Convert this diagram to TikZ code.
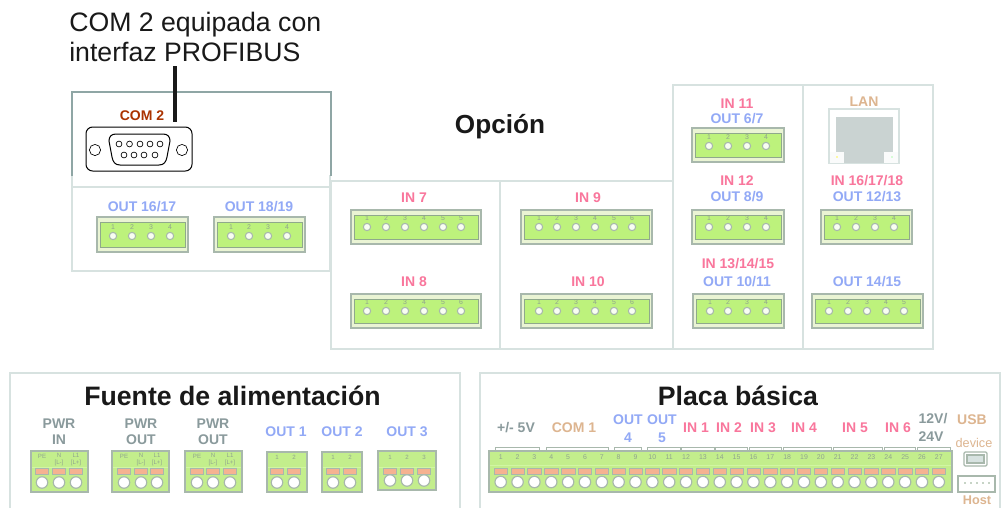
\documentclass[tikz,border=0pt]{standalone}
\usepackage{fontspec}
\setmainfont{Liberation Sans}
\definecolor{panel}{HTML}{D7E2E0}
\definecolor{panelD}{HTML}{8FA6A5}
\definecolor{inpink}{HTML}{F9769C}
\definecolor{outblue}{HTML}{92A9F6}
\definecolor{tanc}{HTML}{DDB590}
\definecolor{grayt}{HTML}{8A9A9C}
\definecolor{plugbg}{HTML}{EAF4D4}
\definecolor{plugedge}{HTML}{A8B8AC}
\definecolor{plugin}{HTML}{BDF27C}
\definecolor{plugdark}{HTML}{8FA98C}
\definecolor{termg}{HTML}{C3EE8C}
\definecolor{orangec}{HTML}{F5B291}
\definecolor{numc}{HTML}{8FA38F}
\tikzset{
  x=0.75pt,y=-0.75pt,
  panelline/.style={draw=panel,line width=1.6pt},
  lab/.style={inner sep=0pt,font=\fontsize{10.5}{12}\selectfont\bfseries},
  inlab/.style={lab,text=inpink},
  outlab/.style={lab,text=outblue},
  graylab/.style={lab,text=grayt},
  tanlab/.style={lab,text=tanc},
  head/.style={inner sep=0pt,text=black!90,font=\fontsize{20}{22}\selectfont\bfseries},
  callout/.style={inner sep=0pt,anchor=base west,text=black!90,font=\fontsize{20}{24}\selectfont},
  num/.style={inner sep=0pt,text=numc,font=\fontsize{5.2}{6}\selectfont},
  tiny/.style={inner sep=0pt,text=numc,font=\fontsize{4.6}{5}\selectfont,align=center},
  plugouter/.style={draw=plugedge,fill=plugbg,line width=0.9pt},
  pluginner/.style={draw=plugdark,fill=plugin,line width=0.75pt},
  hole/.style={circle,draw=plugedge,fill=white!90!plugin,line width=0.8pt,minimum size=5.5pt,inner sep=0pt},
  termbody/.style={draw=plugedge,fill=termg,line width=0.9pt},
  termline/.style={draw=plugin!70!white,line width=0.7pt},
  orangepad/.style={draw=plugedge,fill=orangec,line width=0.4pt,minimum width=10pt,minimum height=4.2pt,inner sep=0pt},
  termhole/.style={circle,draw=plugedge,fill=white,line width=0.9pt,minimum size=8.6pt,inner sep=0pt},
  bracket/.style={draw=plugedge,line width=0.7pt},
  db/.style={draw=black,line width=0.75pt},
  pin/.style={circle,draw=black,fill=white,line width=0.5pt,minimum size=4.4pt,inner sep=0pt},
  screw/.style={circle,draw=black,fill=white,line width=0.5pt,minimum size=8.4pt,inner sep=0pt}
}
% plug: x1,y1,x2,y2, hole y, list of x/label
\newcommand{\plugconn}[6]{%
  \draw[plugouter] (#1,#2) rectangle (#3,#4);
  \draw[pluginner] ({#1+3},{#2+5}) rectangle ({#3-3},{#4-5});
  \foreach \hx/\hl in {#6}{
    \node[hole] at (\hx,#5) {};
    \node[num] at (\hx,{#5-9}) {\hl};
  }%
}
% terminal block: x1,y1,x2,y2, list of x
\newcommand{\termconn}[5]{%
  \draw[termbody] (#1,#2) rectangle (#3,#4);
  \draw[termline] ({#1+1},467) -- ({#3-1},467);
  \foreach \hx in {#5}{
    \node[orangepad] at (\hx,471) {};
    \node[termhole] at (\hx,{#4-9.5}) {};
  }%
}
\begin{document}
\begin{tikzpicture}
\useasboundingbox (0,0) rectangle (1001,508);
\fill[white] (0,0) rectangle (1001,508);

% ---- panels
\draw[panelline] (72,175) -- (72,271) -- (330,271) -- (330,175);
\draw[panelline] (72,187) -- (330,187);
\draw[draw=panelD,line width=1.9pt] (72,176) -- (72,92) -- (331,92) -- (331,176);
\draw[panelline] (331,181) rectangle (673,349);
\draw[panelline] (500,181) -- (500,349);
\draw[panelline] (673,85) rectangle (933,349);
\draw[panelline] (803,85) -- (803,349);
\draw[panelline] (10,508) -- (10,373) -- (460,373) -- (460,508);
\draw[panelline] (480,508) -- (480,373) -- (1000,373) -- (1000,508);

% ---- headings
\node[callout] (t1) at (69,31) {COM 2 equipada con};
\node[callout] (t2) at (69,61) {interfaz PROFIBUS};
\node[head,font=\fontsize{19.6}{22}\selectfont\bfseries] (opc) at (500,126.5) {Opción};
\node[head] (fue) at (232.5,396) {Fuente de alimentación};
\node[head] (pla) at (738,396) {Placa básica};

% ---- COM 2
\node[lab,text=red!45!black!60!orange] (com2) at (142,116) {COM 2};
\draw[db,rounded corners=5pt,fill=white] (86,127) rectangle (192,171);
\draw[db] (109,141) .. controls (109,137) and (111,134) .. (116,134) -- (163,134) .. controls (168,134) and (170,137) .. (170,141) -- (167,157) .. controls (166,162) and (164,165) .. (159,165) -- (120,165) .. controls (115,165) and (113,162) .. (112,157) -- cycle;
\node[screw] (s1) at (95,150) {};
\node[screw] (s2) at (182,150) {};
\foreach \px in {119,129.5,140,150,160}{\node[pin] at (\px,144) {};}
\foreach \px in {124,134,144,155}{\node[pin] at (\px,155) {};}
\coordinate (lead) at (175,66);
\coordinate (leadend) at (175,122);
\draw[black!90,line width=2.4pt] (lead) -- (leadend);

% ---- top left
\node[outlab] (l1617) at (142,207) {OUT 16/17};
\node[outlab] (l1819) at (259,207) {OUT 18/19};
\plugconn{97}{217}{188}{252}{236}{113/1,132/2,151/3,170/4}
\plugconn{214}{217}{305}{252}{236}{231/1,249/2,268/3,287/4}

% ---- middle
\node[inlab] (in7) at (414,198) {IN 7};
\node[inlab] (in8) at (414,282) {IN 8};
\node[inlab] (in9) at (588,198) {IN 9};
\node[inlab] (in10) at (588,282) {IN 10};
\plugconn{351}{210}{481}{244}{227}{367/1,386/2,405/3,424/4,443/5,461/5}
\plugconn{351}{294}{481}{328}{311}{367/1,386/2,405/3,424/4,443/5,461/6}
\plugconn{521}{210}{652}{244}{227}{539/1,557/2,576/3,595/4,614/5,632/6}
\plugconn{521}{294}{652}{328}{311}{539/1,557/2,576/3,595/4,614/5,632/6}

% ---- right column A
\node[inlab] (in11) at (737,104) {IN 11};
\node[outlab] (o67) at (737,119) {OUT 6/7};
\plugconn{692}{128}{784}{162}{146}{709/1,728/2,747/3,766/4}
\node[inlab] (in12) at (737,181) {IN 12};
\node[outlab] (o89) at (737,197) {OUT 8/9};
\plugconn{692}{210}{784}{244}{227}{709/1,728/2,747/3,766/4}
\node[inlab] (in13) at (738,264) {IN 13/14/15};
\node[outlab] (o1011) at (737,282) {OUT 10/11};
\plugconn{693}{294}{784}{328}{311}{710/1,728/2,747/3,766/4}

% ---- right column B
\node[tanlab] (lan) at (864,102) {LAN};
\draw[draw=panel,fill=white,line width=0.9pt] (829,109) rectangle (899,163);
\fill[panel!85!gray] (836,117) rectangle (893,163);
\fill[white!88!panel] (830,152) rectangle (844,163);
\fill[white!88!panel] (884,152) rectangle (898,163);
\fill[yellow!70!white] (837,157) circle (0.9);
\fill[green!30!white] (892,157) circle (0.9);
\node[inlab] (in16) at (867,181) {IN 16/17/18};
\node[outlab] (o1213) at (867,197) {OUT 12/13};
\plugconn{821}{210}{912}{244}{227}{837/1,856/2,875/3,894/4}
\node[outlab] (o1415) at (867,282) {OUT 14/15};
\plugconn{812}{294}{923}{328}{311}{829/1,848/2,867/3,886/4,904/5}

% ---- power supply
\node[graylab] (p1a) at (59,424) {PWR};
\node[graylab] (p1b) at (59,440) {IN};
\node[graylab] (p2a) at (141,424) {PWR};
\node[graylab] (p2b) at (141,440) {OUT};
\node[graylab] (p3a) at (213,424) {PWR};
\node[graylab] (p3b) at (213,440) {OUT};
\node[outlab] (o1) at (286,432) {OUT 1};
\node[outlab] (o2) at (342,432) {OUT 2};
\node[outlab] (o3) at (407,432) {OUT 3};
\termconn{31}{451}{88}{492}{42,59,76}
\termconn{112}{451}{169}{492}{124,141,157}
\termconn{185}{451}{242}{492}{197,213,230}
\termconn{267}{452}{307}{492}{277,294}
\termconn{322}{452}{362}{492}{333,350}
\termconn{378}{451}{436}{490}{390,407,424}
\foreach \cx in {42,124,197}{\node[tiny] at (\cx,456) {PE};}
\foreach \cx in {59,141,213}{\node[tiny] at (\cx,459.5) {N\\{[L-]}};}
\foreach \cx in {76,157,230}{\node[tiny] at (\cx,459.5) {L1\\{[L+]}};}
\foreach \cx/\cl in {277/1,294/2,333/1,350/2,390/1,407/2,424/3}{\node[tiny] at (\cx,457) {\cl};}

% ---- base board
\node[graylab] (v5) at (516,428) {+/- 5V};
\node[tanlab] (com1) at (574,428) {COM 1};
\node[outlab] (o4a) at (628,420) {OUT};
\node[outlab] (o4b) at (628,438) {4};
\node[outlab] (o5a) at (662,420) {OUT};
\node[outlab] (o5b) at (662,438) {5};
\node[inlab] (i1) at (696,428) {IN 1};
\node[inlab] (i2) at (729,428) {IN 2};
\node[inlab] (i3) at (763,428) {IN 3};
\node[inlab] (i4) at (804,428) {IN 4};
\node[inlab] (i5) at (855,428) {IN 5};
\node[inlab] (i6) at (898,428) {IN 6};
\node[graylab] (v12) at (933,419) {12V/};
\node[graylab] (v24) at (931,437) {24V};
\node[tanlab] (usb) at (972,420) {USB};
\node[inner sep=0pt,text=tanc,font=\fontsize{9.5}{11}\selectfont] (dev) at (974,443) {device};
\node[inner sep=0pt,text=tanc,font=\fontsize{9.5}{11}\selectfont\bfseries] (hst) at (977,500) {Host};
\draw[termbody] (489,451) rectangle (952,492);
\draw[termline] (490,465) -- (951,465);
\foreach \n in {1,...,27}{
  \pgfmathsetmacro{\tx}{500.7+(\n-1)*16.85}
  \node[num] at (\tx,457) {\n};
  \node[orangepad] at (\tx,471) {};
  \node[termhole] at (\tx,482) {};
}
\foreach \a/\b in {495/539,546/608,614/641,647/680,681/714,715/747,749/781,783/831,833/882,884/915,917/950}{
  \draw[bracket] (\a,451) -- (\a,447.5) -- (\b,447.5) -- (\b,451);
}
% USB ports
\draw[draw=plugedge,fill=white,line width=0.9pt,rounded corners=1pt] (964,452) rectangle (987,466);
\draw[draw=plugedge,fill=panel,line width=0.9pt] (967,455) rectangle (984,463);
\draw[draw=plugedge,fill=white,line width=0.9pt] (958,476) rectangle (995,492);
\foreach \dx in {965,971,977,983,989}{\fill[plugdark] (\dx,483) circle (0.9);}
\end{tikzpicture}
\end{document}
